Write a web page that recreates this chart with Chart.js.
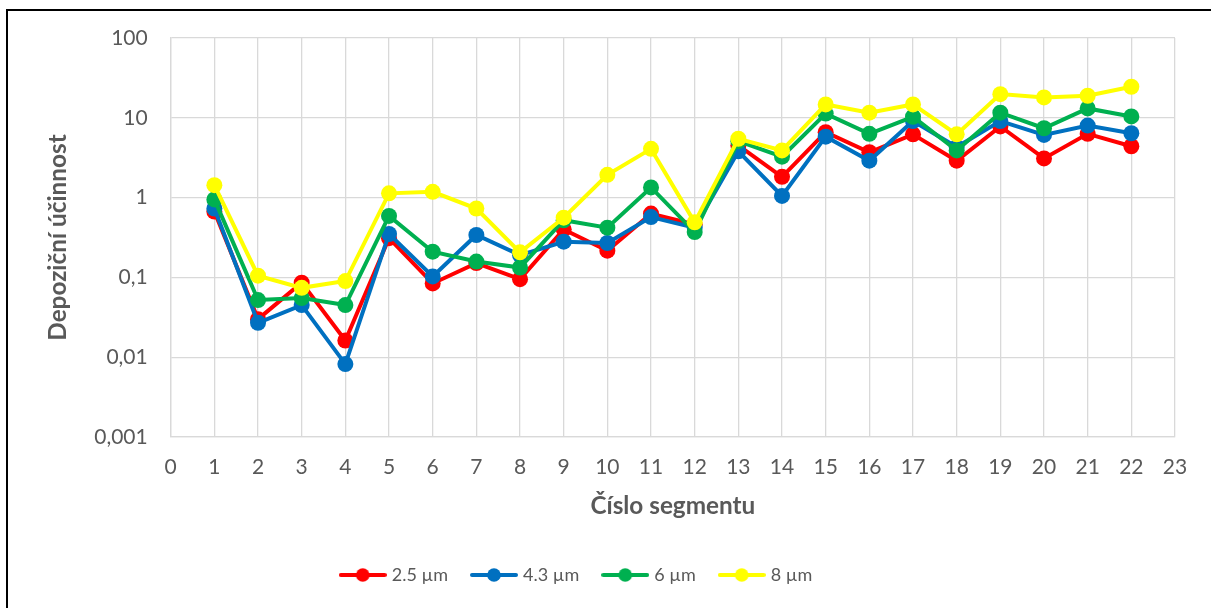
<!DOCTYPE html>
<html>
<head>
<meta charset="utf-8">
<script src="https://cdn.jsdelivr.net/npm/chart.js@4/dist/chart.umd.min.js"></script>
<style>
  html, body { margin: 0; padding: 0; background: #fff; overflow: hidden; }
  #wrap { position: relative; width: 1211px; height: 608px; }
  #frame { position: absolute; left: 6px; top: 9px; width: 1300px; height: 700px;
           border: 2px solid #000; box-sizing: border-box; pointer-events: none; }
  canvas { position: absolute; left: 0; top: 0; }
</style>
</head>
<body>
<div id="wrap">
  <canvas id="chart" width="1211" height="608"></canvas>
  <div id="frame"></div>
</div>
<script>
// Segment numbers along the x axis
const segments = [1, 2, 3, 4, 5, 6, 7, 8, 9, 10, 11, 12, 13, 14, 15, 16, 17, 18, 19, 20, 21, 22];

// Deposition efficiency per segment for each particle size
const eff25 = [0.67, 0.030, 0.086, 0.0162, 0.31, 0.084, 0.151, 0.095, 0.40, 0.216, 0.63, 0.46,
               4.5, 1.82, 6.6, 3.7, 6.2, 2.9, 7.8, 3.1, 6.3, 4.4];
const eff43 = [0.73, 0.027, 0.045, 0.0082, 0.35, 0.103, 0.34, 0.19, 0.28, 0.27, 0.57, 0.42,
               3.8, 1.05, 5.8, 2.9, 9.1, 4.3, 9.1, 6.1, 8.0, 6.4];
const eff6  = [0.95, 0.052, 0.055, 0.045, 0.59, 0.21, 0.158, 0.133, 0.52, 0.42, 1.34, 0.37,
               5.1, 3.26, 11.3, 6.3, 10.3, 3.9, 11.6, 7.4, 13.1, 10.4];
const eff8  = [1.43, 0.105, 0.074, 0.090, 1.13, 1.18, 0.73, 0.206, 0.56, 1.93, 4.08, 0.49,
               5.46, 3.9, 14.7, 11.6, 14.7, 6.2, 19.8, 18.0, 18.9, 24.5];

const seriesNames  = ['2.5 µm', '4.3 µm', '6 µm', '8 µm'];
const seriesColors = ['#ff0000', '#0070c0', '#00b050', '#ffff00'];

// Logarithmic ticks and their labels (decimal comma)
const yTickValues = [0.001, 0.01, 0.1, 1, 10, 100];
const yTickLabels = ['0,001', '0,01', '0,1', '1', '10', '100'];

const xTitle = 'Číslo segmentu';
const yTitle = 'Depoziční účinnost';

const FONT = 'Lato, "Open Sans", sans-serif';
const GREY = '#595959';
const GRID = '#d9d9d9';

function toPoints(values) {
  return segments.map((s, i) => ({ x: s, y: values[i] }));
}

// Legend symbol: short line with a dot in the middle
function legendSymbol(color) {
  const c = document.createElement('canvas');
  c.width = 48; c.height = 16;
  const g = c.getContext('2d');
  g.strokeStyle = color; g.lineWidth = 4; g.lineCap = 'round';
  g.beginPath(); g.moveTo(2, 8); g.lineTo(46, 8); g.stroke();
  g.fillStyle = color;
  g.beginPath(); g.arc(24, 8, 6.8, 0, Math.PI * 2); g.fill();
  return c;
}

// Nudge the legend row slightly left of the canvas centre
const legendShift = {
  id: 'legendShift',
  afterLayout(chart) {
    if (chart.legend) { chart.legend.left -= 10; chart.legend.right -= 10; }
  }
};

const allSeries = [eff25, eff43, eff6, eff8];
const datasets = allSeries.map((vals, i) => ({
  label: seriesNames[i],
  data: toPoints(vals),
  borderColor: seriesColors[i],
  backgroundColor: seriesColors[i],
  pointBackgroundColor: seriesColors[i],
  pointBorderColor: seriesColors[i],
  borderWidth: 4,
  pointRadius: 8,
  pointBorderWidth: 0,
  pointHoverRadius: 8,
  tension: 0,
  fill: false,
  order: 4 - i
}));

new Chart(document.getElementById('chart'), {
  type: 'line',
  data: { datasets },
  plugins: [legendShift],
  options: {
    responsive: false,
    animation: false,
    devicePixelRatio: 1,
    layout: { padding: { left: 0, right: 36, top: 38, bottom: 14 } },
    plugins: {
      tooltip: { enabled: false },
      legend: {
        position: 'bottom',
        labels: {
          usePointStyle: true,
          pointStyleWidth: 40,
          boxHeight: 16,
          padding: 26,
          color: GREY,
          font: { family: FONT, size: 18 },
          generateLabels(chart) {
            return chart.data.datasets.map((ds, i) => ({
              text: ds.label,
              fillStyle: ds.borderColor,
              strokeStyle: ds.borderColor,
              lineWidth: 0,
              pointStyle: legendSymbol(ds.borderColor),
              hidden: false,
              datasetIndex: i,
              fontColor: GREY
            }));
          }
        }
      }
    },
    scales: {
      x: {
        type: 'linear',
        min: 0,
        max: 23,
        afterFit(scale) { scale.height = 103; },
        ticks: { stepSize: 1, padding: 18, color: GREY, font: { family: FONT, size: 21 } },
        grid: { color: GRID, lineWidth: 1.3, drawTicks: false },
        border: { color: GRID, width: 1.3 },
        title: { display: true, text: xTitle, color: GREY,
                 font: { family: FONT, size: 24.3, weight: 'bold' },
                 padding: { top: 0, bottom: 19 } }
      },
      y: {
        type: 'logarithmic',
        min: 0.001,
        max: 100,
        afterFit(scale) { scale.width = 170.7; },
        afterBuildTicks(scale) { scale.ticks = yTickValues.map(v => ({ value: v })); },
        ticks: {
          padding: 23,
          color: GREY,
          font: { family: FONT, size: 21 },
          callback(value) {
            const k = yTickValues.findIndex(v => Math.abs(v - value) / v < 1e-6);
            return k >= 0 ? yTickLabels[k] : '';
          }
        },
        grid: { color: GRID, lineWidth: 1.3, drawTicks: false },
        border: { color: GRID, width: 1.3 },
        title: { display: true, text: yTitle, color: GREY,
                 font: { family: FONT, size: 24.3, weight: 'bold' },
                 padding: { top: 44, bottom: 0 } }
      }
    }
  }
});
</script>
</body>
</html>
